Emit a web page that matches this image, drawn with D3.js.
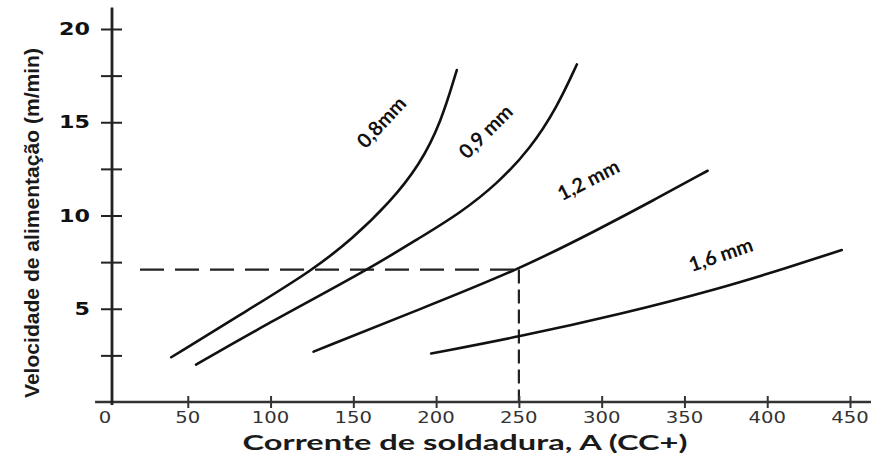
<!DOCTYPE html>
<html>
<head>
<meta charset="utf-8">
<script src="https://cdn.jsdelivr.net/npm/d3@7"></script>
<style>
  html, body { margin: 0; padding: 0; background: #fff; }
  svg { display: block; }
</style>
</head>
<body>
<div id="chart"></div>
<script>
// Dados (corrente A, velocidade m/min)
const xTicks = [50, 100, 150, 200, 250, 300, 350, 400, 450];
const xTickLabels = ["0", "50", "100", "150", "200", "250", "300", "350", "400", "450"];
const yTicks = [5, 10, 15, 20];
const yMinorTicks = [2.5, 7.5, 12.5, 17.5];

const fio08 = [[40, 2.4], [84, 4.8], [126, 7.1], [150, 8.8], [172, 10.7], [190, 12.7], [203, 15.0], [212.5, 17.8]];
const fio09 = [[55, 2.0], [94, 4.0], [159, 7.1], [190, 8.8], [214, 10.1], [237, 11.7], [257, 13.6], [273, 15.8], [285, 18.1]];
const fio12 = [[126, 2.7], [188, 4.9], [250, 7.1], [299, 9.3], [331, 10.8], [364, 12.4]];
const fio16 = [[197, 2.6], [250, 3.5], [311, 4.7], [372, 6.1], [412, 7.2], [445, 8.15]];

const series = [fio08, fio09, fio12, fio16];
const rotulos = ["0,8mm", "0,9 mm", "1,2 mm", "1,6 mm"];
// posição do rótulo em dados + ângulo
const rotuloPos = [[167, 15.0], [230, 14.5], [292, 11.9], [372, 7.9]];
const rotuloAng = [-47, -45, -27, -19];

// linha de referência tracejada
const refCorrente = 250;
const refVelocidade = 7.1;

const largura = 871, altura = 461;

const svg = d3.select("#chart").append("svg")
  .attr("width", largura).attr("height", altura);

const x = d3.scaleLinear().domain([0, 450]).range([105, 850]);
const y = d3.scaleLinear().domain([0, 20]).range([402, 29]);

const eixoX0 = x(0) + 7; // eixo vertical um pouco deslocado, como no original

// linhas tracejadas de referência
svg.append("line")
  .attr("x1", eixoX0 + 28).attr("x2", x(refCorrente))
  .attr("y1", y(refVelocidade)).attr("y2", y(refVelocidade))
  .attr("stroke", "#222").attr("stroke-width", 2.2)
  .attr("stroke-dasharray", "24,11");
svg.append("line")
  .attr("x1", x(refCorrente)).attr("x2", x(refCorrente))
  .attr("y1", y(refVelocidade)).attr("y2", y(0))
  .attr("stroke", "#222").attr("stroke-width", 2.2)
  .attr("stroke-dasharray", "14,6");

// eixo X
svg.append("g").attr("transform", `translate(0,${y(0)})`)
  .call(d3.axisBottom(x).tickValues(xTicks).tickSize(6).tickFormat(""))
  .call(g => g.select(".domain").remove())
  .call(g => g.selectAll(".tick line").attr("y1", -6).attr("y2", 6)
    .attr("stroke", "#333").attr("stroke-width", 2));

svg.append("line")
  .attr("x1", x(-6)).attr("x2", largura)
  .attr("y1", y(0)).attr("y2", y(0))
  .attr("stroke", "#333").attr("stroke-width", 2.6);

svg.append("g").selectAll("text")
  .data(xTickLabels)
  .join("text")
  .attr("x", (d, i) => x(i * 50))
  .attr("y", y(0) + 21)
  .attr("text-anchor", "middle")
  .attr("font-family", "DejaVu Sans")
  .attr("font-size", 15)
  .attr("fill", "#333")
  .attr("textLength", d => d.length * 12.5)
  .attr("lengthAdjust", "spacingAndGlyphs")
  .text(d => d);

// eixo Y
svg.append("g").attr("transform", `translate(${eixoX0},0)`)
  .call(d3.axisLeft(y).tickValues(yTicks.concat(yMinorTicks)).tickSize(11).tickFormat(""))
  .call(g => g.select(".domain").remove())
  .call(g => g.selectAll(".tick line").attr("x1", -11).attr("x2", 10)
    .attr("stroke", "#222").attr("stroke-width", 2));

svg.append("line")
  .attr("x1", eixoX0).attr("x2", eixoX0)
  .attr("y1", y(21.15)).attr("y2", y(0) + 3)
  .attr("stroke", "#222").attr("stroke-width", 2.8);

svg.append("g").selectAll("text")
  .data(yTicks)
  .join("text")
  .attr("x", eixoX0 - 22)
  .attr("y", d => y(d))
  .attr("dy", "0.36em")
  .attr("text-anchor", "end")
  .attr("font-family", "DejaVu Sans")
  .attr("font-weight", "bold")
  .attr("font-size", 17)
  .attr("fill", "#111")
  .attr("textLength", d => String(d).length * 15.5)
  .attr("lengthAdjust", "spacingAndGlyphs")
  .text(d => d);

// curvas dos diâmetros de fio
const linha = d3.line()
  .x(d => x(d[0]))
  .y(d => y(d[1]))
  .curve(d3.curveBasis);

svg.append("g").selectAll("path")
  .data(series)
  .join("path")
  .attr("d", linha)
  .attr("fill", "none")
  .attr("stroke", "#111")
  .attr("stroke-width", 2.6)
  .attr("stroke-linecap", "round");

svg.append("g").selectAll("text")
  .data(rotulos)
  .join("text")
  .attr("transform", (d, i) => `translate(${x(rotuloPos[i][0])},${y(rotuloPos[i][1])}) rotate(${rotuloAng[i]})`)
  .attr("text-anchor", "middle")
  .attr("dy", "0.35em")
  .attr("font-family", "Lato")
  .attr("font-weight", "bold")
  .attr("font-size", 20)
  .attr("fill", "#111")
  .text(d => d);

// títulos dos eixos
svg.append("text")
  .attr("x", 465).attr("y", 450)
  .attr("text-anchor", "middle")
  .attr("font-family", "Lato")
  .attr("font-weight", "bold")
  .attr("font-size", 21)
  .attr("fill", "#1a1a1a")
  .attr("textLength", 445)
  .attr("lengthAdjust", "spacingAndGlyphs")
  .text("Corrente de soldadura, A (CC+)");

svg.append("text")
  .attr("transform", "translate(39,223) rotate(-90)")
  .attr("text-anchor", "middle")
  .attr("font-family", "Liberation Sans")
  .attr("font-weight", "bold")
  .attr("font-size", 21)
  .attr("fill", "#1a1a1a")
  .attr("textLength", 350)
  .attr("lengthAdjust", "spacingAndGlyphs")
  .text("Velocidade de alimentação (m/min)");
</script>
</body>
</html>
